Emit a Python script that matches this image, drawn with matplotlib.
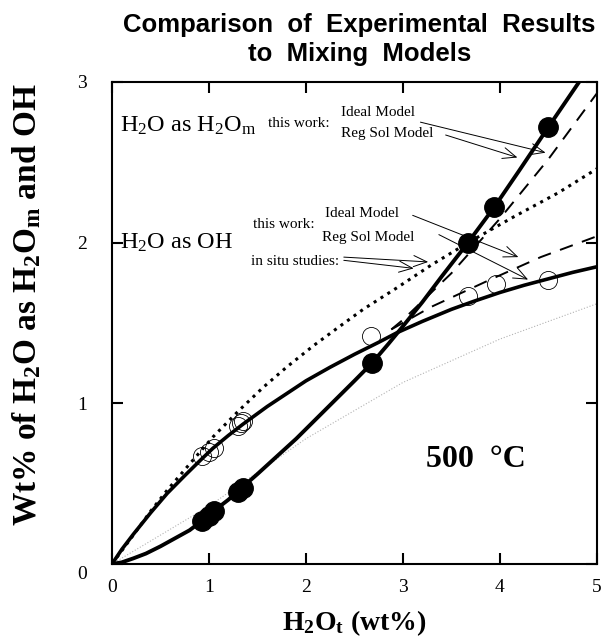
import matplotlib
matplotlib.use('Agg')
import matplotlib.pyplot as plt
from matplotlib.transforms import ScaledTranslation

plt.rcParams['font.family'] = ['Liberation Serif', 'DejaVu Serif']
plt.rcParams['mathtext.fontset'] = 'custom'
plt.rcParams['mathtext.rm'] = 'Liberation Serif'
plt.rcParams['mathtext.it'] = 'Liberation Serif:italic'
plt.rcParams['mathtext.bf'] = 'Liberation Serif:bold'

# measured points (wt% H2Ot vs wt% species)
h2om_x = [0.93, 1.0, 1.05, 1.30, 1.35, 2.68, 3.67, 3.94, 4.50]
h2om_y = [0.27, 0.30, 0.33, 0.45, 0.47, 1.25, 2.00, 2.22, 2.72]
oh_x = [0.93, 1.00, 1.05, 1.30, 1.33, 1.35, 2.67, 3.67, 3.96, 4.50]
oh_y = [0.67, 0.70, 0.72, 0.86, 0.88, 0.89, 1.42, 1.67, 1.74, 1.77]

# model curves
regsol_h2om_x = [0, 0.1, 0.22, 0.35, 0.5, 0.65, 0.8, 0.93, 1.05, 1.2, 1.33, 1.5, 1.7, 1.9,
                 2.1, 2.3, 2.5, 2.68, 2.85, 3.0, 3.2, 3.4, 3.67, 3.94, 4.2, 4.5, 4.85]
regsol_h2om_y = [0, 0.01, 0.035, 0.065, 0.11, 0.16, 0.21, 0.27, 0.33, 0.40, 0.47, 0.56, 0.67, 0.78,
                 0.90, 1.02, 1.14, 1.25, 1.37, 1.48, 1.63, 1.79, 2.00, 2.22, 2.45, 2.72, 3.03]
regsol_oh_x = [0, 0.1, 0.22, 0.4, 0.57, 0.75, 0.91, 1.04, 1.2, 1.35, 1.6, 1.8, 2.0, 2.25,
               2.5, 2.75, 2.94, 3.2, 3.5, 3.73, 4.0, 4.25, 4.5, 4.75, 5.0]
regsol_oh_y = [0, 0.09, 0.185, 0.32, 0.44, 0.55, 0.645, 0.72, 0.80, 0.87, 0.98, 1.06, 1.14, 1.225,
               1.305, 1.38, 1.44, 1.51, 1.585, 1.635, 1.69, 1.735, 1.775, 1.815, 1.85]
ideal_h2om_x = [2.88, 3.0, 3.5, 4.0, 4.5, 5.0]
ideal_h2om_y = [1.46, 1.52, 1.81, 2.15, 2.52, 2.93]
ideal_oh_x = [2.88, 3.29, 3.9, 4.42, 5.0]
ideal_oh_y = [1.46, 1.60, 1.77, 1.91, 2.04]
insitu_oh_x = [0, 0.22, 0.4, 0.57, 0.84, 1.04, 1.3, 1.56, 1.8, 2.08, 2.35, 2.59, 2.94,
               3.29, 3.7, 4.14, 4.6, 5.0]
insitu_oh_y = [0, 0.18, 0.33, 0.46, 0.65, 0.79, 0.95, 1.10, 1.225, 1.36, 1.48, 1.585, 1.72,
               1.86, 2.01, 2.16, 2.31, 2.46]
insitu_h2om_x = [0, 1.0, 2.0, 3.0, 4.0, 5.0]
insitu_h2om_y = [0, 0.36, 0.78, 1.13, 1.40, 1.62]

fig = plt.figure(figsize=(6.11, 6.38), dpi=100)
ax = fig.add_axes([0.1833, 0.116, 0.7937, 0.7555])

ax.plot(insitu_h2om_x, insitu_h2om_y, ls=':', color='0.7', lw=0.8)
ax.plot(insitu_oh_x, insitu_oh_y, ls=':', color='black', lw=2.2)
ax.plot(ideal_h2om_x, ideal_h2om_y, ls=(0, (7, 5)), color='black', lw=1.4)
ax.plot(ideal_oh_x, ideal_oh_y, ls=(0, (7, 5)), color='black', lw=1.4)
ax.plot(regsol_oh_x, regsol_oh_y, color='black', lw=2.6)
ax.plot(regsol_h2om_x, regsol_h2om_y, color='black', lw=2.8)
ax.plot(oh_x, oh_y, 'o', ms=13, mfc='none', mec='black', mew=0.6)
ax.plot(h2om_x, h2om_y, 'o', ms=14, color='black')

ax.set_xlim(0, 5)
ax.set_ylim(0, 3)
ax.set_xticks([0, 1, 2, 3, 4, 5])
ax.set_yticks([0, 1, 2, 3])
ax.tick_params(direction='in', length=8, width=1.5, top=True, right=True, labelsize=14)
ax.tick_params(axis='y', pad=18)
ax.tick_params(axis='x', pad=11)
for s in ax.spines.values():
    s.set_linewidth(1.5)
lab0 = ax.get_yticklabels()[0]
lab0.set_transform(lab0.get_transform() + ScaledTranslation(0, -6 / 72, fig.dpi_scale_trans))

ax.set_xlabel(r'$\mathbf{H_2O_t}$ (wt%)', fontsize=20, fontweight='bold')
ax.xaxis.set_label_coords(0.5, -0.092)
ax.set_ylabel(r'Wt% of $\mathbf{H_2O}$ as $\mathbf{H_2O_m}$ and OH', fontsize=24,
              fontweight='bold')
ax.yaxis.set_label_coords(-0.142, 0.537)
fig.text(0.588, 0.938, 'Comparison  of  Experimental  Results\nto  Mixing  Models', ha='center',
         va='center', fontsize=18.5, fontweight='bold', family=['Liberation Sans'], linespacing=1.3)

# annotations
ax.text(0.08, 2.73, r'H$_2$O as H$_2$O$_\mathrm{m}$', fontsize=17.5, va='center')
ax.text(1.61, 2.74, 'this work:', fontsize=11, va='center')
ax.text(2.36, 2.81, 'Ideal Model', fontsize=11, va='center')
ax.text(2.36, 2.68, 'Reg Sol Model', fontsize=11, va='center')
ax.text(0.08, 2.0, r'H$_2$O as OH', fontsize=17.5, va='center')
ax.text(1.45, 2.11, 'this work:', fontsize=11, va='center')
ax.text(2.20, 2.18, 'Ideal Model', fontsize=11, va='center')
ax.text(2.17, 2.03, 'Reg Sol Model', fontsize=11, va='center')
ax.text(1.43, 1.88, 'in situ studies:', fontsize=11, va='center')
ax.text(3.75, 0.65, u'500  \u00b0C', fontsize=23, fontweight='bold', ha='center', va='center')

arrows = [((3.18, 2.75), (4.47, 2.56)),
          ((3.44, 2.67), (4.18, 2.53)),
          ((3.10, 2.17), (4.19, 1.91)),
          ((3.37, 2.05), (4.29, 1.77)),
          ((2.39, 1.91), (3.26, 1.88)),
          ((2.39, 1.89), (3.11, 1.84))]
for start, tip in arrows:
    ax.annotate('', xy=tip, xytext=start,
                arrowprops=dict(arrowstyle='->, head_length=0.6, head_width=0.25', color='black',
                                lw=0.7, mutation_scale=16, shrinkA=0, shrinkB=0))

fig.savefig('out.png', dpi=100)
